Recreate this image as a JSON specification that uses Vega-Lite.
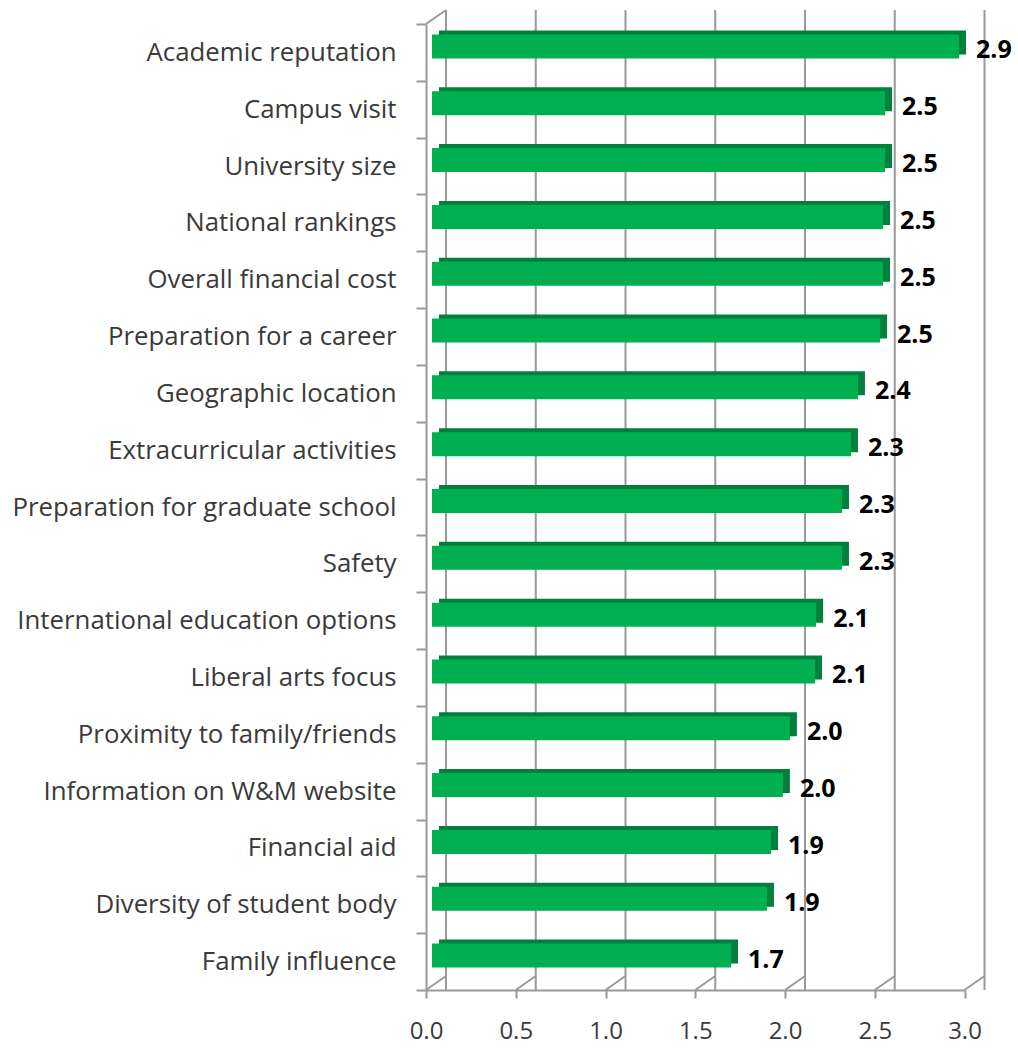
{
  "$schema": "https://vega.github.io/schema/vega-lite/v6.json",
  "width": 538.5,
  "height": 966,
  "autosize": "none",
  "padding": {"left": 426, "top": 24, "right": 53.5, "bottom": 59},
  "background": "white",
  "config": {"view": {"stroke": null}},
  "datasets": {
    "scores": [
      {"factor": "Academic reputation", "score": 2.936},
      {"factor": "Campus visit", "score": 2.524},
      {"factor": "University size", "score": 2.524},
      {"factor": "National rankings", "score": 2.513},
      {"factor": "Overall financial cost", "score": 2.513},
      {"factor": "Preparation for a career", "score": 2.496},
      {"factor": "Geographic location", "score": 2.373},
      {"factor": "Extracurricular activities", "score": 2.334},
      {"factor": "Preparation for graduate school", "score": 2.284},
      {"factor": "Safety", "score": 2.284},
      {"factor": "International education options", "score": 2.14},
      {"factor": "Liberal arts focus", "score": 2.134},
      {"factor": "Proximity to family/friends", "score": 1.994},
      {"factor": "Information on W&M website", "score": 1.955},
      {"factor": "Financial aid", "score": 1.889},
      {"factor": "Diversity of student body", "score": 1.866},
      {"factor": "Family influence", "score": 1.666}
    ],
    "grid": [{"g": 0}, {"g": 0.5}, {"g": 1}, {"g": 1.5}, {"g": 2}, {"g": 2.5}, {"g": 3}]
  },
  "data": {"name": "scores"},
  "encoding": {
    "y": {
      "field": "factor",
      "type": "nominal",
      "sort": null,
      "scale": {"paddingInner": 0, "paddingOuter": 0},
      "axis": {
        "title": null,
        "tickBand": "extent",
        "tickSize": 10,
        "tickColor": "#999999",
        "tickWidth": 2,
        "domainColor": "#999999",
        "domainWidth": 2,
        "labelFont": "Open Sans",
        "labelFontSize": 25.8,
        "labelColor": "#3a3a3a",
        "labelPadding": 20,
        "labelLimit": 600
      }
    }
  },
  "layer": [
    {
      "data": {"name": "grid"},
      "mark": {"type": "rule", "color": "#999999", "strokeWidth": 2, "xOffset": 20, "yOffset": -14},
      "encoding": {
        "x": {"field": "g", "type": "quantitative", "scale": {"domain": [0, 3], "nice": false}},
        "y": null
      }
    },
    {
      "data": {"name": "grid"},
      "mark": {"type": "rule", "color": "#999999", "strokeWidth": 2, "x2Offset": 20, "y2Offset": -14},
      "encoding": {
        "x": {"field": "g", "type": "quantitative"},
        "x2": {"field": "g"},
        "y": {"value": "height"},
        "y2": {"value": "height"}
      }
    },
    {
      "data": {"values": [{"g": 0}]},
      "mark": {"type": "rule", "color": "#999999", "strokeWidth": 2, "x2Offset": 20, "y2Offset": -14},
      "encoding": {
        "x": {"field": "g", "type": "quantitative"},
        "x2": {"field": "g"},
        "y": {"value": 0},
        "y2": {"value": 0}
      }
    },
    {
      "mark": {"type": "bar", "color": "#00803C", "height": 24, "xOffset": 13, "yOffset": -10},
      "encoding": {
        "x": {"field": "score", "type": "quantitative"}
      }
    },
    {
      "mark": {"type": "bar", "color": "#00B050", "height": 24, "xOffset": 6, "yOffset": -6},
      "encoding": {
        "x": {"field": "score", "type": "quantitative"}
      }
    },
    {
      "mark": {"type": "text", "align": "left", "baseline": "middle", "dx": 23, "dy": -2, "font": "Open Sans", "fontSize": 25, "fontWeight": "bold", "color": "#000000"},
      "encoding": {
        "x": {
          "field": "score",
          "type": "quantitative",
          "axis": {
            "title": null,
            "values": [0, 0.5, 1, 1.5, 2, 2.5, 3],
            "format": ".1f",
            "grid": false,
            "labelFlush": false,
            "tickSize": 8,
            "tickColor": "#999999",
            "tickWidth": 2,
            "domainColor": "#999999",
            "domainWidth": 2,
            "labelFont": "Open Sans",
            "labelFontSize": 24,
            "labelColor": "#3a3a3a",
            "labelPadding": 21
          }
        },
        "text": {"field": "score", "type": "quantitative", "format": ".1f"}
      }
    }
  ]
}
